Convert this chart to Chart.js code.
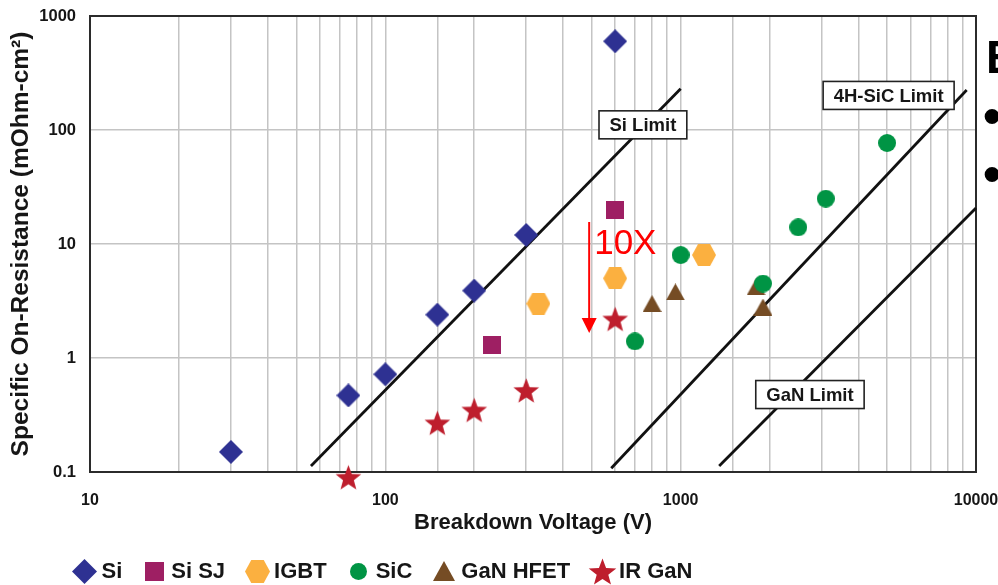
<!DOCTYPE html>
<html>
<head>
<meta charset="utf-8">
<script src="https://cdn.jsdelivr.net/npm/chart.js@4.4.1/dist/chart.umd.min.js"></script>
<style>
  html, body { margin: 0; padding: 0; background: #fff; }
  #wrap { width: 998px; height: 585px; }
</style>
</head>
<body>
<div id="wrap"><canvas id="chart" width="998" height="585"></canvas></div>
<script>
const SANS = '"Liberation Sans", Arial, sans-serif';
const INK = '#161616';

// breakdown voltage (V) and specific on-resistance (mOhm-cm2) for each device family
const siV = [30, 75, 100, 150, 200, 300, 600];
const siR = [0.15, 0.47, 0.72, 2.4, 3.9, 12, 600];
const siSjV = [230, 600];
const siSjR = [1.3, 20];
const igbtV = [330, 600, 1200];
const igbtR = [3, 5, 8];
const sicV = [700, 1000, 1900, 2500, 3100, 5000];
const sicR = [1.4, 8, 4.5, 14, 25, 77];
const ganHfetV = [800, 960, 1800, 1900];
const ganHfetR = [3, 3.8, 4.2, 2.8];
const irGanV = [75, 150, 200, 300, 600];
const irGanR = [0.09, 0.27, 0.35, 0.52, 2.2];

// material limit lines, end points
const siLimitV = [56, 1000];
const siLimitR = [0.113, 230];
const sicLimitV = [582, 9300];
const sicLimitR = [0.108, 224];
const ganLimitV = [1350, 10000];
const ganLimitR = [0.113, 20.7];

// labelled decades
const xTickLabels = [10, 100, 1000, 10000];
const yTickLabels = [0.1, 1, 10, 100, 1000];

// boxed names of the limit lines, placed in data units
const limitLabels = [
  { text: 'Si Limit', v: 745, r: 111 },
  { text: '4H-SiC Limit', v: 5060, r: 201 },
  { text: 'GaN Limit', v: 2740, r: 0.478 },
];

// the "10X" improvement arrow
const tenX = { text: '10X', v: 490, from: 15.6, to: 1.66 };

function pts(xs, ys) {
  return xs.map((x, i) => ({ x: x, y: ys[i] }));
}

// small canvases used as point styles (data and legend)
function marker(shape, w, h, color) {
  const c = document.createElement('canvas');
  c.width = w; c.height = h;
  const g = c.getContext('2d');
  const cx = w / 2, cy = h / 2;
  g.fillStyle = color;
  g.beginPath();
  if (shape === 'diamond') {
    g.moveTo(cx, 0); g.lineTo(w, cy); g.lineTo(cx, h); g.lineTo(0, cy);
  } else if (shape === 'square') {
    g.rect(0, 0, w, h);
  } else if (shape === 'hexagon') {
    g.moveTo(0, cy); g.lineTo(w * 0.25, 0); g.lineTo(w * 0.75, 0);
    g.lineTo(w, cy); g.lineTo(w * 0.75, h); g.lineTo(w * 0.25, h);
  } else if (shape === 'circle') {
    g.arc(cx, cy, w / 2, 0, Math.PI * 2);
  } else if (shape === 'triangle') {
    g.moveTo(cx, 0); g.lineTo(w, h); g.lineTo(0, h);
  } else if (shape === 'star') {
    const R = w / 2, r = R * 0.42;
    const oy = R + (h - R * 1.809) / 2;
    for (let i = 0; i < 10; i++) {
      const a = -Math.PI / 2 + i * Math.PI / 5;
      const rr = i % 2 ? r : R;
      g.lineTo(cx + rr * Math.cos(a), oy + rr * Math.sin(a));
    }
  }
  g.closePath();
  g.fill();
  return c;
}

const families = [
  { label: 'Si', data: pts(siV, siR), shape: 'diamond', color: '#2e3192', size: [24, 24], key: [25, 25] },
  { label: 'Si SJ', data: pts(siSjV, siSjR), shape: 'square', color: '#9e1f63', size: [18, 18], key: [19, 19] },
  { label: 'IGBT', data: pts(igbtV, igbtR), shape: 'hexagon', color: '#fbb040', size: [24, 22], key: [25, 23] },
  { label: 'SiC', data: pts(sicV, sicR), shape: 'circle', color: '#009444', size: [18, 18], key: [17, 17] },
  { label: 'GaN HFET', data: pts(ganHfetV, ganHfetR), shape: 'triangle', color: '#754c24', size: [19, 17], key: [22, 20] },
  { label: 'IR GaN', data: pts(irGanV, irGanR), shape: 'star', color: '#be1e2d', size: [27, 27], key: [29, 29] },
];
families.forEach(f => {
  f.img = marker(f.shape, f.size[0], f.size[1], f.color);
  f.keyImg = marker(f.shape, f.key[0], f.key[1], f.color);
});

const limitLine = (xs, ys) => ({
  data: pts(xs, ys),
  showLine: true,
  pointRadius: 0,
  borderColor: '#111',
  borderWidth: 2.8,
  order: 1,
  clip: false,
});

const isDecade = (v, list) => list.some(d => Math.abs(v / d - 1) < 1e-6);

// plot frame, drawn under the markers
const framePlugin = {
  id: 'frame',
  beforeDatasetsDraw(chart) {
    const { ctx, chartArea: a } = chart;
    ctx.save();
    ctx.strokeStyle = '#2b2b2b';
    ctx.lineWidth = 2;
    ctx.strokeRect(a.left, a.top, a.right - a.left, a.bottom - a.top);
    ctx.restore();
  }
};

// limit names in boxes and the red 10X arrow
const notesPlugin = {
  id: 'notes',
  afterDatasetsDraw(chart) {
    const { ctx, scales: { x, y } } = chart;
    ctx.save();
    ctx.font = 'bold 18.5px ' + SANS;
    ctx.textAlign = 'center';
    ctx.textBaseline = 'middle';
    limitLabels.forEach(l => {
      const px = x.getPixelForValue(l.v);
      const py = y.getPixelForValue(l.r);
      const w = ctx.measureText(l.text).width + 21;
      const h = 28;
      ctx.fillStyle = '#fff';
      ctx.fillRect(px - w / 2, py - h / 2, w, h);
      ctx.strokeStyle = '#222';
      ctx.lineWidth = 1.6;
      ctx.strokeRect(px - w / 2, py - h / 2, w, h);
      ctx.fillStyle = INK;
      ctx.fillText(l.text, px, py + 1);
    });

    const ax = x.getPixelForValue(tenX.v);
    const y1 = y.getPixelForValue(tenX.from);
    const y2 = y.getPixelForValue(tenX.to);
    ctx.strokeStyle = '#ff0000';
    ctx.fillStyle = '#ff0000';
    ctx.lineWidth = 2;
    ctx.beginPath();
    ctx.moveTo(ax, y1);
    ctx.lineTo(ax, y2 - 12);
    ctx.stroke();
    ctx.beginPath();
    ctx.moveTo(ax - 7.5, y2 - 15);
    ctx.lineTo(ax + 7.5, y2 - 15);
    ctx.lineTo(ax, y2);
    ctx.closePath();
    ctx.fill();
    ctx.font = '35px ' + SANS;
    ctx.textAlign = 'left';
    ctx.textBaseline = 'alphabetic';
    ctx.fillText(tenX.text, ax + 5, y1 + 32);
    ctx.restore();
  }
};

// legend row under the axis title
const keyPlugin = {
  id: 'keyRow',
  afterDraw(chart) {
    const { ctx } = chart;
    const y = 571;
    let cx = 84.5;
    ctx.save();
    ctx.font = 'bold 22px ' + SANS;
    ctx.textBaseline = 'middle';
    ctx.fillStyle = INK;
    families.forEach(f => {
      ctx.drawImage(f.keyImg, Math.round(cx - f.keyImg.width / 2), Math.round(y - f.keyImg.height / 2));
      const tx = cx + 17;
      ctx.fillText(f.label, tx, y + 1);
      cx = tx + ctx.measureText(f.label).width + 32;
    });

    // start of the neighbouring slide text, cut by the edge
    ctx.font = 'bold 46px ' + SANS;
    ctx.textBaseline = 'alphabetic';
    ctx.fillStyle = '#000';
    ctx.fillText('E', 986, 73);
    ctx.font = 'bold 52px ' + SANS;
    ctx.fillText('•', 983, 134);
    ctx.fillText('•', 983, 192);
    ctx.restore();
  }
};

new Chart(document.getElementById('chart'), {
  type: 'scatter',
  data: {
    datasets: [
      ...families.map(f => ({
        label: f.label,
        data: f.data,
        pointStyle: f.img,
        pointRadius: 12,
        clip: false,
      })),
      limitLine(siLimitV, siLimitR),
      limitLine(sicLimitV, sicLimitR),
      limitLine(ganLimitV, ganLimitR),
    ]
  },
  options: {
    responsive: false,
    animation: false,
    events: [],
    devicePixelRatio: 1,
    layout: { padding: { left: 0, right: 22, top: 16, bottom: 49 } },
    plugins: {
      legend: { display: false },
      tooltip: { enabled: false },
    },
    scales: {
      x: {
        type: 'logarithmic',
        min: 10,
        max: 10000,
        afterFit: s => { s.height = 64; s.paddingLeft = 0; s.paddingRight = 0; },
        border: { display: false },
        grid: { color: '#c4c4c4', lineWidth: 1.5, drawTicks: false },
        ticks: {
          autoSkip: false,
          maxRotation: 0,
          padding: 19,
          color: INK,
          font: { family: SANS, size: 16, weight: 'bold' },
          callback: v => isDecade(v, xTickLabels) ? String(v) : '',
        },
        title: {
          display: true,
          text: 'Breakdown Voltage (V)',
          color: INK,
          padding: 0,
          font: { family: SANS, size: 22, weight: 'bold' },
        },
      },
      y: {
        type: 'logarithmic',
        min: 0.1,
        max: 1000,
        afterFit: s => { s.width = 90; s.paddingTop = 0; s.paddingBottom = 0; },
        border: { display: false },
        grid: {
          drawTicks: false,
          lineWidth: 1.5,
          color: c => isDecade(c.tick.value, yTickLabels) ? '#c4c4c4' : 'rgba(0,0,0,0)',
        },
        ticks: {
          autoSkip: false,
          padding: 14,
          color: INK,
          font: { family: SANS, size: 16.5, weight: 'bold' },
          callback: v => isDecade(v, yTickLabels) ? String(v) : '',
        },
        title: {
          display: true,
          text: 'Specific On-Resistance (mOhm-cm²)',
          color: INK,
          padding: { top: 7, bottom: 0 },
          font: { family: SANS, size: 24.5, weight: 'bold' },
        },
      },
    },
  },
  plugins: [framePlugin, notesPlugin, keyPlugin],
});
</script>
</body>
</html>
